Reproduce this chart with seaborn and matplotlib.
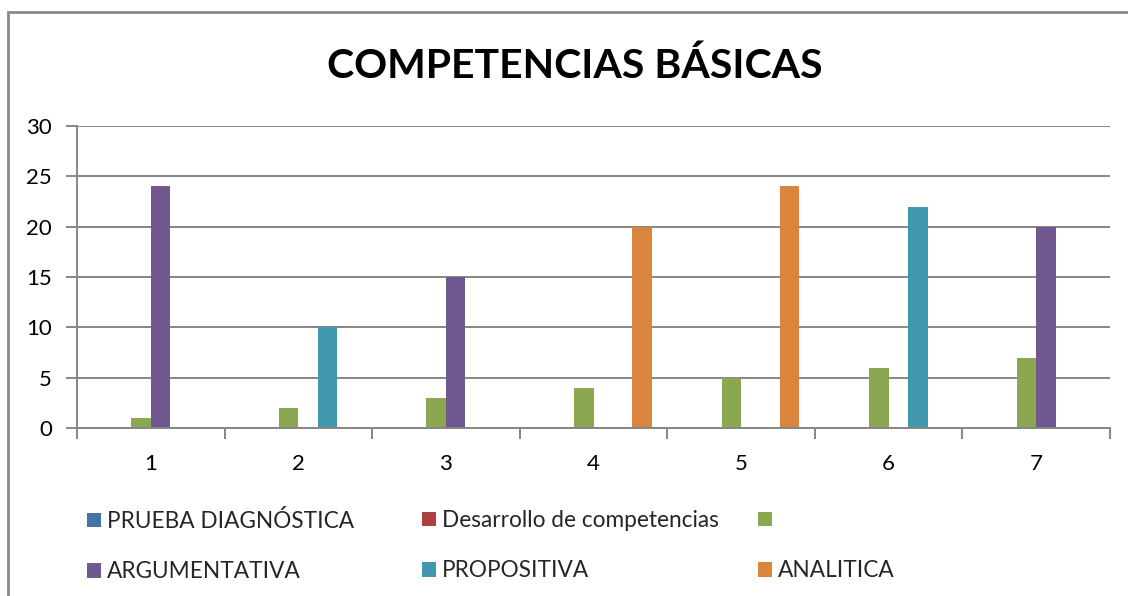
import matplotlib
matplotlib.use("Agg")
import matplotlib.pyplot as plt
import seaborn as sns
import pandas as pd
from matplotlib.patches import Patch, Rectangle

# ---------------- data ----------------
categories = ["1", "2", "3", "4", "5", "6", "7"]
series_keys = ["PRUEBA DIAGNÓSTICA", "Desarrollo de competencias", "Serie3",
               "ARGUMENTATIVA", "PROPOSITIVA", "ANALITICA"]
legend_labels = ["PRUEBA DIAGNÓSTICA", "Desarrollo de competencias", "",
                 "ARGUMENTATIVA", "PROPOSITIVA", "ANALITICA"]
prueba = [0, 0, 0, 0, 0, 0, 0]
desarrollo = [0, 0, 0, 0, 0, 0, 0]
serie3 = [1, 2, 3, 4, 5, 6, 7]
argumentativa = [24, 0, 15, 0, 0, 0, 20]
propositiva = [0, 10, 0, 0, 0, 22, 0]
analitica = [0, 0, 0, 20, 24, 0, 0]
colors = ["#4573A7", "#A9423F", "#8BA74F", "#71588F", "#4298AE", "#DB843D"]
title = "COMPETENCIAS BÁSICAS"
yticks = [0, 5, 10, 15, 20, 25, 30]

values = [prueba, desarrollo, serie3, argumentativa, propositiva, analitica]
rows = []
for key, vals in zip(series_keys, values):
    for c, v in zip(categories, vals):
        rows.append({"cat": c, "val": v, "serie": key})
df = pd.DataFrame(rows)

# ---------------- figure ----------------
sns.set_theme(style="white")
FONT = ["Lato", "DejaVu Sans"]
plt.rcParams["font.family"] = FONT

W, H = 1128, 596
fig = plt.figure(figsize=(W / 100, H / 100), dpi=100)
ax = fig.add_axes([77 / W, 1 - 428 / H, (1110 - 77) / W, (428 - 126) / H])

sns.barplot(data=df, x="cat", y="val", hue="serie", order=categories,
            hue_order=series_keys, palette=colors, width=0.79, saturation=1,
            legend=False, ax=ax, errorbar=None, linewidth=0, edgecolor="none")

ax.set_xlim(-0.5, len(categories) - 0.5)
ax.set_ylim(0, 30)
ax.set_yticks(yticks)
ax.set_xlabel("")
ax.set_ylabel("")
gc = "#868686"
ax.yaxis.grid(True, color=gc, lw=1.4)
ax.set_axisbelow(True)
for s in ["top", "right"]:
    ax.spines[s].set_visible(False)
for s in ["left", "bottom"]:
    ax.spines[s].set_color(gc)
    ax.spines[s].set_linewidth(1.4)
ax.tick_params(axis="y", length=8, width=1.4, color=gc, direction="out",
               labelsize=16, pad=10, left=True)
ax.tick_params(axis="x", which="major", length=0, labelsize=16, pad=19)
ax.set_xticks([i - 0.5 for i in range(len(categories) + 1)], minor=True)
ax.tick_params(axis="x", which="minor", length=8, width=1.4, color=gc,
               direction="out", bottom=True)
for lab in ax.get_xticklabels() + ax.get_yticklabels():
    lab.set_color("black")

fig.text(575 / W, 1 - 66 / H, title, ha="center", va="center",
         fontsize=29.5, fontweight="bold", color="black")

# legend: 3 columns, 2 rows, placed like the original
col_x = [87, 422, 758]
for ci in range(3):
    idx = [ci, ci + 3]
    handles = [Patch(facecolor=colors[i], linewidth=0) for i in idx]
    labels = [legend_labels[i] for i in idx]
    fig.legend(handles, labels, loc="upper left",
               bbox_to_anchor=(col_x[ci] / W, 1 - 510 / H),
               frameon=False, fontsize=16.3, handlelength=0.62,
               handleheight=0.62, handletextpad=0.28, labelspacing=1.3,
               borderaxespad=0, borderpad=0)

# chart border (cropped at right / bottom)
fig.patches.append(Rectangle((8 / W, -0.2), 2, 1.2 - 12 / H,
                             transform=fig.transFigure, fill=False,
                             edgecolor="#898989", lw=2))

fig.savefig("out.png", dpi=100)
